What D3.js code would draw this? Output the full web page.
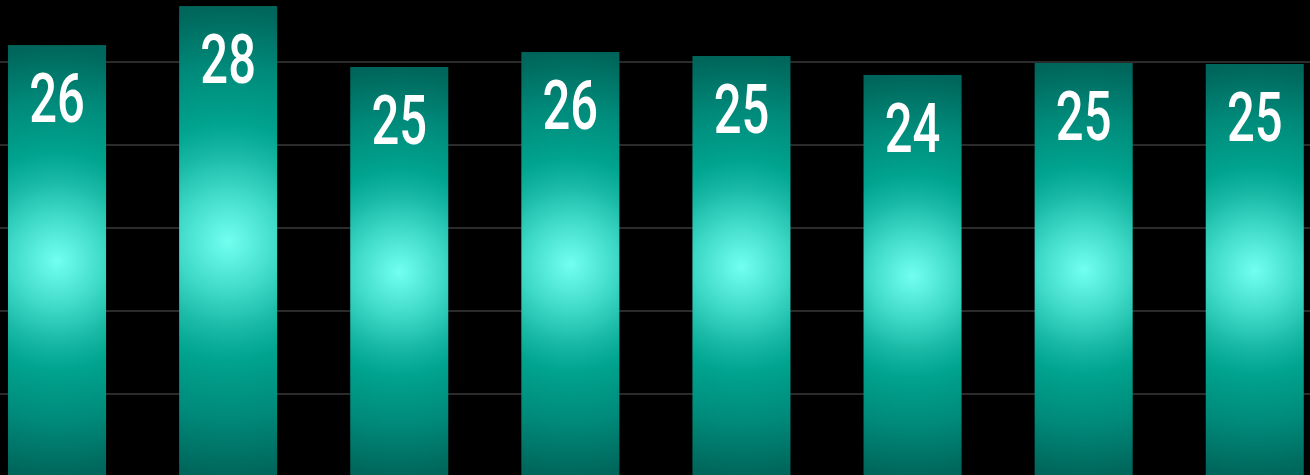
<!DOCTYPE html>
<html>
<head>
<meta charset="utf-8">
<script src="https://cdn.jsdelivr.net/npm/d3@7"></script>
<style>
  html, body { margin: 0; padding: 0; background: #000; overflow: hidden; }
  svg { display: block; }
</style>
</head>
<body>
<svg id="chart" width="1310" height="475"></svg>
<script>
// Eight groups, one value each; labels show the rounded value.
const categories = ["A", "B", "C", "D", "E", "F", "G", "H"];
const values = [26.02, 28.37, 24.70, 25.60, 25.36, 24.22, 24.94, 24.88];
const gridTicks = [5, 10, 15, 20, 25];

const W = 1310, H = 475;
const svg = d3.select("#chart");

const x = d3.scaleBand()
  .domain(categories)
  .range([-28.5, 1340.3])
  .paddingInner(0.427)
  .paddingOuter(0.2135);

const y = d3.scaleLinear()
  .domain([0, 30])
  .range([477, 477 - 30 * 16.6]);

// horizontal grid, behind the bars
svg.append("g")
  .selectAll("line")
  .data(gridTicks)
  .join("line")
  .attr("x1", 0).attr("x2", W)
  .attr("y1", d => y(d)).attr("y2", d => y(d))
  .attr("stroke", "#3a3a3a")
  .attr("stroke-width", 1.6);

// one glow gradient per bar, centred on the bar, radius = half its height
const defs = svg.append("defs");
const stops = [
  [0, "#72fff0"],
  [0.22, "#3ed9c7"],
  [0.37, "#19b9a6"],
  [0.5, "#00a48f"],
  [0.74, "#008a7a"],
  [1, "#00655a"]
];
categories.forEach((c, i) => {
  const top = y(values[i]), bottom = y(0);
  const g = defs.append("radialGradient")
    .attr("id", "glow" + i)
    .attr("gradientUnits", "userSpaceOnUse")
    .attr("cx", x(c) + x.bandwidth() / 2)
    .attr("cy", (top + bottom) / 2)
    .attr("r", (bottom - top) / 2);
  g.selectAll("stop").data(stops).join("stop")
    .attr("offset", d => d[0])
    .attr("stop-color", d => d[1]);
});

svg.append("g")
  .selectAll("rect")
  .data(values)
  .join("rect")
  .attr("x", (d, i) => x(categories[i]))
  .attr("y", d => y(d))
  .attr("width", x.bandwidth())
  .attr("height", d => y(0) - y(d))
  .attr("fill", (d, i) => `url(#glow${i})`);

// value labels in a condensed face (Roboto narrowed horizontally)
svg.append("g")
  .selectAll("text")
  .data(values)
  .join("text")
  .attr("transform", (d, i) =>
    `translate(${x(categories[i]) + x.bandwidth() / 2},${y(d) + 77}) scale(0.72,1)`)
  .attr("text-anchor", "middle")
  .attr("fill", "#fff")
  .style("font-family", "Roboto, 'Noto Sans', sans-serif")
  .style("font-weight", 500)
  .style("font-size", "68px")
  .text(d => Math.round(d));
</script>
</body>
</html>
